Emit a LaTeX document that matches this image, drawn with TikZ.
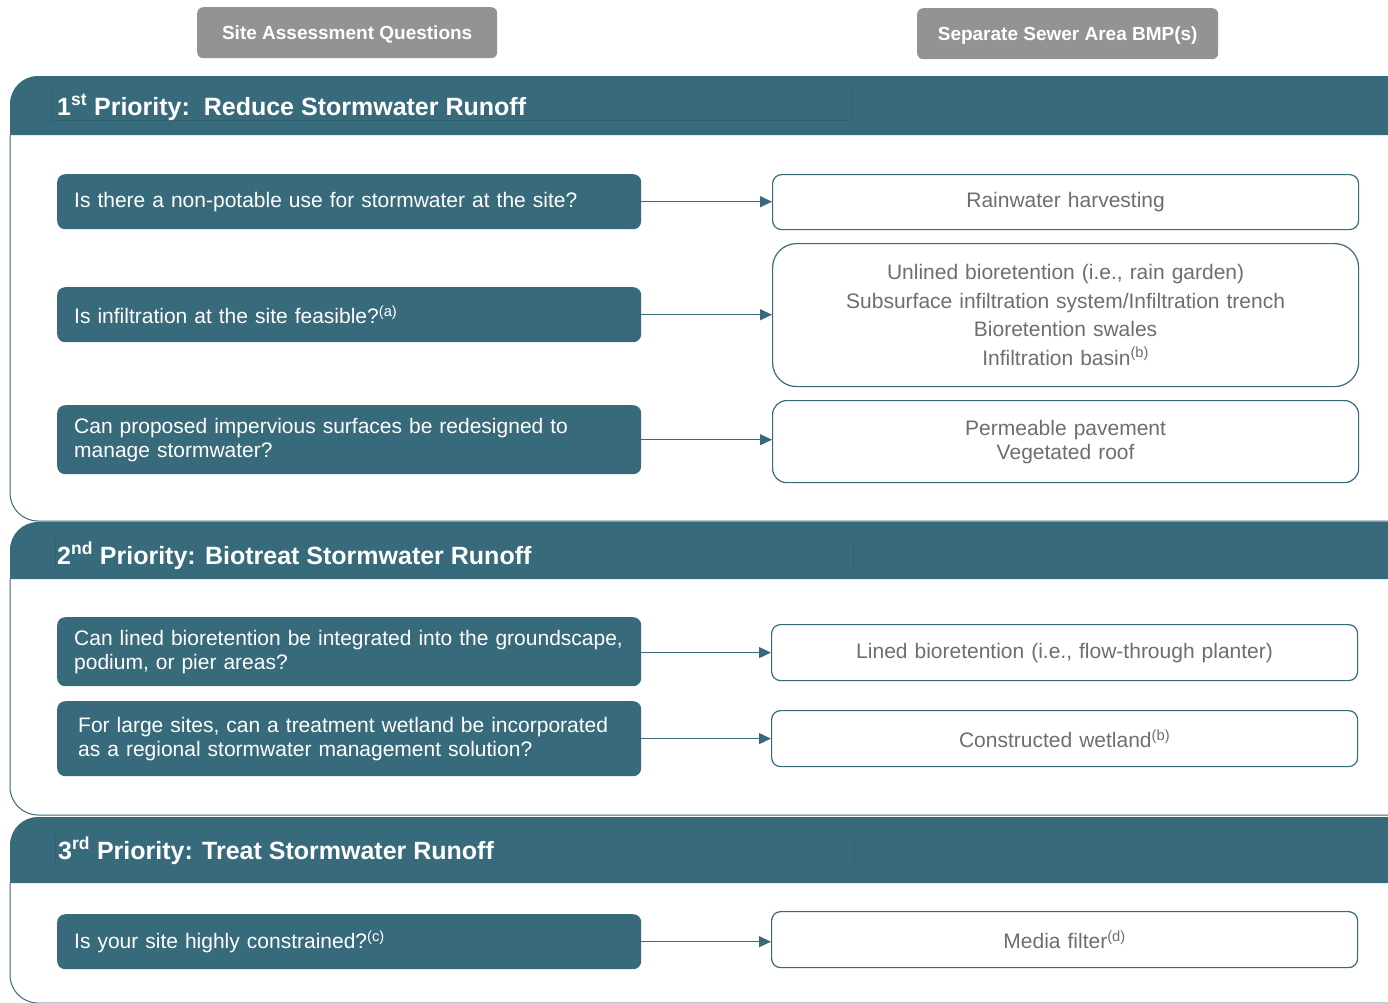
\documentclass[tikz,border=0pt]{standalone}
\usepackage{fontspec}
\setmainfont{Liberation Sans}
\usetikzlibrary{arrows.meta}
\definecolor{tealc}{HTML}{376A7B}
\definecolor{greyc}{HTML}{939393}
\definecolor{txtc}{HTML}{6E6E6E}
\definecolor{linec}{HTML}{2F5E82}
\begin{document}
\begin{tikzpicture}[x=1pt,y=1pt,
  toplabel/.style={fill=greyc, rounded corners=6pt, text=white, font=\fontsize{19}{23}\selectfont\bfseries, inner sep=0pt, anchor=north west},
  qbox/.style={fill=tealc, rounded corners=8pt, text=white, font=\fontsize{21}{24}\selectfont, align=left, anchor=north west, inner xsep=17pt, inner ysep=0pt, text width=550pt, minimum width=584pt},
  abox/.style={draw=tealc, line width=1.2pt, fill=white, text=txtc, font=\fontsize{21}{24}\selectfont, align=center, anchor=north west, inner sep=0pt, text width=586pt, minimum width=586pt},
  htext/.style={text=white, font=\fontsize{25}{30}\selectfont\bfseries, anchor=base west, inner sep=0pt},
  conn/.style={draw=tealc, line width=1.3pt, -{Triangle[length=12pt,width=11pt]}},
  panelline/.style={draw=tealc, line width=1pt}]
\useasboundingbox (0,0) rectangle (1388,-1002);
\begin{scope}
\clip (0,0) rectangle (1388,-1002);
% top labels
\node[toplabel, minimum width=300pt, minimum height=51pt, text depth=-3pt] (tl1) at (197,-7) {Site Assessment Questions};
\node[toplabel, minimum width=301pt, minimum height=51pt, text depth=-3pt] (tl2) at (917,-8) {Separate Sewer Area BMP(s)};
% panel 1
\fill[tealc] (1400,-135) -- (1400,-76) -- (38,-76) arc[start angle=90,end angle=180,radius=28pt] -- (10,-135) -- cycle;
\draw[panelline] (10,-135) -- (10,-493) arc[start angle=180,end angle=270,radius=28pt] -- (1400,-521);
% panel 2
\fill[tealc] (1400,-579) -- (1400,-522) -- (38,-522) arc[start angle=90,end angle=180,radius=28pt] -- (10,-579) -- cycle;
\draw[panelline] (10,-579) -- (10,-787) arc[start angle=180,end angle=270,radius=28pt] -- (1400,-815);
% panel 3
\fill[tealc] (1400,-883) -- (1400,-817) -- (38,-817) arc[start angle=90,end angle=180,radius=28pt] -- (10,-883) -- cycle;
\draw[panelline] (10,-883) -- (10,-975) arc[start angle=180,end angle=270,radius=28pt] -- (1400,-1003);
\end{scope}
% header frame lines
\draw[tealc!90!black, line width=0.5pt] (52,-91) -- (52,-120) -- (851,-120);
\draw[linec, line width=0.8pt] (851,-91) -- (851,-120);
\draw[tealc!90!black, line width=0.5pt] (55,-540) -- (55,-567);
\draw[linec, line width=0.8pt] (853,-540) -- (853,-567);
\draw[tealc!90!black, line width=0.5pt] (55,-836) -- (55,-863);
\draw[linec, line width=0.8pt] (854,-836) -- (854,-863);
% headers
\node[htext] (h1) at (57,-115) {1\textsuperscript{st} Priority:\ \ Reduce Stormwater Runoff};
\node[htext] (h2) at (57,-564) {2\textsuperscript{nd} Priority: Biotreat Stormwater Runoff};
\node[htext] (h3) at (58,-859) {3\textsuperscript{rd} Priority: Treat Stormwater Runoff};
% questions
\node[qbox, minimum height=55pt] (q1) at (57,-174) {Is there a non-potable use for stormwater at the site?};
\node[qbox, minimum height=55pt] (q2) at (57,-287) {Is infiltration at the site feasible?\textsuperscript{(a)}};
\node[qbox, minimum height=69pt] (q3) at (57,-405) {Can proposed impervious surfaces be redesigned to\\manage stormwater?};
\node[qbox, minimum height=69pt] (q4) at (57,-617) {Can lined bioretention be integrated into the groundscape,\\podium, or pier areas?};
\node[qbox, minimum height=75pt, inner xsep=21pt, text width=542pt] (q5) at (57,-701) {For large sites, can a treatment wetland be incorporated\\as a regional stormwater management solution?};
\node[qbox, minimum height=55pt] (q6) at (57,-914) {Is your site highly constrained?\textsuperscript{(c)}};
% answers
\node[abox, rounded corners=9pt, minimum height=55pt] (a1) at (772,-174) {Rainwater harvesting};
\node[abox, rounded corners=24pt, minimum height=143pt, font=\fontsize{21}{28.5}\selectfont] (a2) at (772,-243) {Unlined bioretention (i.e., rain garden)\\Subsurface infiltration system/Infiltration trench\\Bioretention swales\\Infiltration basin\textsuperscript{(b)}};
\node[abox, rounded corners=14pt, minimum height=82pt] (a3) at (772,-400) {Permeable pavement\\Vegetated roof};
\node[abox, rounded corners=9pt, minimum height=56pt] (a4) at (771,-624) {Lined bioretention (i.e., flow-through planter)};
\node[abox, rounded corners=9pt, minimum height=56pt] (a5) at (771,-710) {Constructed wetland\textsuperscript{(b)}};
\node[abox, rounded corners=9pt, minimum height=56pt] (a6) at (771,-911) {Media filter\textsuperscript{(d)}};
% connectors
\draw[conn] (q1.east) -- (q1.east -| a1.west);
\draw[conn] (q2.east) -- (q2.east -| a2.west);
\draw[conn] (q3.east) -- (q3.east -| a3.west);
\draw[conn] (q4.east |- a4.west) -- (a4.west);
\draw[conn] (q5.east |- a5.west) -- (a5.west);
\draw[conn] (q6.east) -- (q6.east -| a6.west);
\end{tikzpicture}
\end{document}
